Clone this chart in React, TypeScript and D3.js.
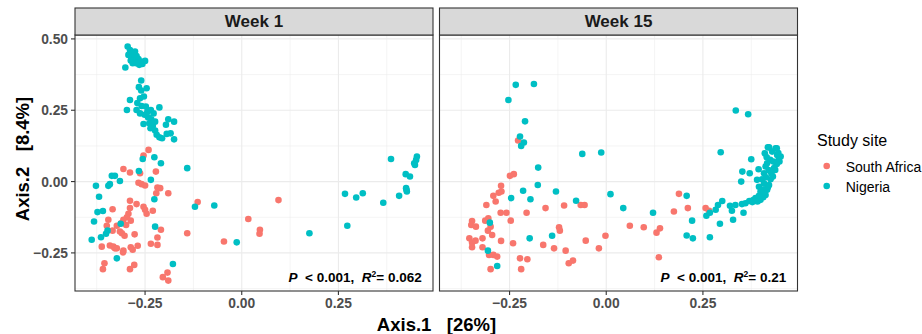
import React from "react";
import { scaleLinear, range } from "d3";

// PCoA coordinates [Axis.1, Axis.2]
const week1SouthAfrica: [number, number][] = [
  [-0.241, 0.111], [-0.254, 0.091], [-0.306, 0.044], [-0.289, 0.032], [-0.263, 0.029], [-0.222, 0.035],
  [-0.267, -0.004], [-0.259, -0.009], [-0.25, -0.014], [-0.218, -0.021], [-0.211, -0.023], [-0.221, -0.041],
  [-0.19, -0.041], [-0.289, -0.067], [-0.114, -0.072], [0.095, -0.065], [-0.272, -0.079], [-0.254, -0.088],
  [-0.289, -0.093], [-0.334, -0.097], [-0.25, -0.099], [-0.23, -0.102], [-0.293, -0.113], [-0.246, -0.113],
  [-0.297, -0.125], [-0.287, -0.137], [-0.345, -0.134], [-0.306, -0.134], [-0.312, -0.146], [-0.349, -0.155],
  [-0.323, -0.155], [-0.299, -0.152], [-0.209, -0.169], [-0.334, -0.172], [-0.315, -0.175], [-0.31, -0.181],
  [-0.303, -0.19], [-0.277, -0.185], [-0.218, -0.196], [-0.141, -0.181], [0.017, -0.131], [0.047, -0.169],
  [0.046, -0.183], [-0.046, -0.21], [-0.362, -0.228], [-0.341, -0.224], [-0.332, -0.228], [-0.328, -0.234],
  [-0.323, -0.234], [-0.306, -0.242], [-0.287, -0.23], [-0.282, -0.239], [-0.269, -0.225], [-0.307, -0.248],
  [-0.235, -0.218], [-0.218, -0.222], [-0.355, -0.286], [-0.359, -0.307], [-0.289, -0.307], [-0.278, -0.292],
  [-0.204, -0.335], [-0.192, -0.319], [-0.19, -0.347],
];

const week1Nigeria: [number, number][] = [
  [-0.295, 0.473], [-0.289, 0.461], [-0.284, 0.45], [-0.276, 0.456], [-0.293, 0.444], [-0.286, 0.436],
  [-0.278, 0.429], [-0.272, 0.44], [-0.267, 0.429], [-0.261, 0.421], [-0.25, 0.423], [-0.265, 0.409],
  [-0.273, 0.415], [-0.282, 0.415], [-0.301, 0.4], [-0.257, 0.412], [-0.287, 0.424],
  [-0.26, 0.354], [-0.266, 0.331], [-0.246, 0.327], [-0.26, 0.319], [-0.289, 0.286], [-0.263, 0.292],
  [-0.253, 0.298], [-0.297, 0.251], [-0.27, 0.275], [-0.259, 0.265], [-0.248, 0.263], [-0.213, 0.26],
  [-0.272, 0.251], [-0.263, 0.239], [-0.244, 0.245], [-0.235, 0.251], [-0.228, 0.239], [-0.251, 0.234],
  [-0.242, 0.225], [-0.234, 0.218], [-0.254, 0.202], [-0.239, 0.204], [-0.23, 0.195], [-0.224, 0.21],
  [-0.236, 0.187], [-0.224, 0.179], [-0.22, 0.164], [-0.213, 0.155], [-0.206, 0.152], [-0.196, 0.199],
  [-0.19, 0.218], [-0.175, 0.21], [-0.194, 0.167], [-0.184, 0.169], [-0.175, 0.148],
  [-0.256, 0.079], [-0.226, 0.085], [-0.209, 0.064], [-0.266, 0.037], [-0.336, 0.02], [-0.328, 0.02],
  [-0.315, 0.002], [-0.341, -0.009], [-0.345, -0.015], [-0.377, -0.015], [-0.235, 0.006], [-0.141, 0.047],
  [-0.369, -0.053], [-0.226, -0.062], [-0.373, -0.107], [-0.359, -0.103], [-0.121, -0.088], [-0.071, -0.084],
  [-0.382, -0.14], [-0.313, -0.148], [-0.224, -0.158], [-0.347, -0.172], [-0.351, -0.183], [-0.364, -0.195],
  [-0.388, -0.204], [-0.013, -0.213], [-0.323, -0.269], [-0.178, -0.289],
  [0.175, -0.181], [0.267, -0.043], [0.296, -0.056], [0.313, -0.041], [0.273, -0.155], [0.366, -0.074],
  [0.386, 0.079], [0.407, -0.05], [0.424, 0.026], [0.435, 0.018], [0.425, -0.023], [0.427, -0.035],
  [0.426, -0.029], [0.448, 0.058], [0.453, 0.088], [0.451, 0.076], [0.446, 0.064],
];

const week15SouthAfrica: [number, number][] = [
  [-0.228, 0.144], [-0.249, 0.02], [-0.239, 0.026], [-0.272, -0.015], [-0.278, -0.039], [-0.271, -0.035],
  [-0.292, -0.05], [-0.286, -0.07], [-0.31, -0.082], [-0.273, -0.109], [-0.258, -0.109], [-0.206, -0.109],
  [-0.157, -0.093], [-0.109, -0.084], [-0.066, -0.082], [-0.056, -0.082], [-0.247, -0.137], [-0.347, -0.138],
  [-0.349, -0.152], [-0.337, -0.158], [-0.313, -0.137], [-0.305, -0.129], [-0.299, -0.158], [-0.306, -0.172],
  [-0.295, -0.187], [-0.354, -0.199], [-0.347, -0.214], [-0.338, -0.207], [-0.32, -0.199], [-0.347, -0.23],
  [-0.32, -0.23], [-0.272, -0.208], [-0.241, -0.216], [-0.163, -0.222], [-0.135, -0.234], [-0.105, -0.242],
  [-0.053, -0.207], [-0.019, -0.234], [-0.002, -0.19], [-0.122, -0.16], [-0.12, -0.172], [-0.303, -0.257],
  [-0.292, -0.257], [-0.282, -0.263], [-0.223, -0.269], [-0.204, -0.272], [-0.22, -0.307], [-0.299, -0.307],
  [-0.097, -0.286], [-0.086, -0.277], [0.061, -0.155], [0.097, -0.16], [0.13, -0.179], [0.139, -0.164],
  [0.136, -0.265], [0.188, -0.043], [0.175, -0.105], [0.211, -0.093], [0.257, -0.093], [0.266, -0.102],
];

const week15Nigeria: [number, number][] = [
  [-0.234, 0.339], [-0.187, 0.342], [-0.253, 0.286], [-0.21, 0.211], [-0.223, 0.158], [-0.213, 0.137],
  [-0.22, 0.125], [0.335, 0.249], [0.367, 0.236], [-0.062, 0.097], [-0.013, 0.102], [0.296, 0.103],
  [-0.176, 0.049], [-0.177, -0.012], [-0.215, -0.032], [-0.13, -0.035], [-0.246, -0.058], [-0.196, -0.062],
  [-0.078, -0.067], [0.011, -0.044], [0.044, -0.093], [0.121, -0.109], [0.208, -0.05], [0.222, -0.137],
  [0.208, -0.189], [0.224, -0.199], [0.268, -0.195], [0.259, -0.12], [0.268, -0.109], [0.283, -0.099],
  [0.289, -0.082], [0.3, -0.068], [0.294, -0.148], [0.328, -0.134], [0.325, -0.102], [0.32, -0.085],
  [0.334, -0.082], [0.351, -0.079], [0.355, -0.109], [0.36, -0.076], [0.378, -0.072], [-0.301, -0.144],
  [-0.306, -0.242], [-0.282, -0.296], [-0.198, -0.199], [-0.14, -0.19], [0.349, 0.0], [0.352, 0.035],
  [0.371, 0.029], [0.375, 0.078], [0.394, 0.043], [0.39, 0.006], [0.395, -0.018], [0.403, 0.008],
  [0.408, 0.029], [0.412, 0.053], [0.41, 0.099], [0.418, 0.12], [0.429, 0.105], [0.438, 0.117],
  [0.442, 0.093], [0.451, 0.088], [0.446, 0.076], [0.441, 0.062], [0.434, 0.047], [0.427, 0.029],
  [0.425, 0.008], [0.421, -0.012], [0.416, -0.029], [0.412, -0.047], [0.406, -0.055], [0.399, -0.064],
  [0.391, -0.07], [0.408, -0.006], [0.431, 0.018], [0.437, 0.041], [0.448, 0.07], [0.424, 0.076],
  [0.416, 0.064], [0.408, -0.027], [0.399, -0.035], [0.386, -0.058], [0.421, 0.12], [0.441, 0.117],
  [0.415, 0.085], [0.42, 0.04], [0.432, 0.07], [0.445, 0.1], [0.403, -0.04], [0.395, -0.05],
  [0.38, -0.065], [0.37, -0.068], [0.413, 0.015], [0.418, -0.02],
];

const facets = ["Week 1", "Week 15"];
const rSquared = ["0.062", "0.21"];
const sites = ["South Africa", "Nigeria"];
const siteColors = ["#F8766D", "#00BFC4"];
const xTicks = [-0.25, 0, 0.25];
const yTicks = [-0.25, 0, 0.25, 0.5];

const panelData = [
  [week1SouthAfrica, week1Nigeria],
  [week15SouthAfrica, week15Nigeria],
];

const font = "'Liberation Sans', Arial, Helvetica, sans-serif";
const panelLefts = [75, 439.5];
const panelW = 358;
const top = 35;
const bottom = 291;
const stripTop = 8;

const yScale = scaleLinear().domain([-0.3835, 0.5137]).range([bottom, top]);

const fmt = (v: number) => (v === 0 ? "0.00" : v < 0 ? "\u2212" + Math.abs(v).toFixed(2) : v.toFixed(2));

export default function App() {
  const minorY = range(-0.375, 0.6, 0.125).filter((v) => !yTicks.includes(v));
  return (
    <svg width={922} height={334} style={{ position: "absolute", left: 0, top: 0, fontFamily: font }}>
      <rect width={922} height={334} fill="#fff" />
      {facets.map((facet, i) => {
        const left = panelLefts[i];
        const x = scaleLinear().domain([-0.4312, 0.4946]).range([left, left + panelW]);
        const [xmin, xmax] = x.domain();
        const minorX = range(-0.375, 0.5, 0.25).filter((v) => v > xmin && v < xmax);
        const minorYIn = minorY.filter((v) => yScale(v) > top && yScale(v) < bottom);
        return (
          <g key={facet}>
            {/* grid */}
            {minorX.map((v) => (
              <line key={"mx" + v} x1={x(v)} x2={x(v)} y1={top} y2={bottom} stroke="#EBEBEB" strokeWidth={0.55} />
            ))}
            {minorYIn.map((v) => (
              <line key={"my" + v} x1={left} x2={left + panelW} y1={yScale(v)} y2={yScale(v)} stroke="#EBEBEB" strokeWidth={0.55} />
            ))}
            {xTicks.map((v) => (
              <line key={"gx" + v} x1={x(v)} x2={x(v)} y1={top} y2={bottom} stroke="#EBEBEB" strokeWidth={1.1} />
            ))}
            {yTicks.map((v) => (
              <line key={"gy" + v} x1={left} x2={left + panelW} y1={yScale(v)} y2={yScale(v)} stroke="#EBEBEB" strokeWidth={1.1} />
            ))}
            {/* points */}
            {panelData[i].map((pts, s) =>
              pts.map(([px, py], k) => (
                <circle key={s + "-" + k} cx={x(px)} cy={yScale(py)} r={3.3} fill={siteColors[s]} />
              ))
            )}
            {/* annotation */}
            <text
              x={left + panelW - 11.3}
              y={282}
              textAnchor="end"
              fontSize={13.5}
              fontWeight="bold"
              fill="#000"
              style={{ whiteSpace: "pre" }}
            >
              <tspan fontStyle="italic">P</tspan>
              <tspan>{"  < 0.001,  "}</tspan>
              <tspan fontStyle="italic">R</tspan>
              <tspan fontSize={8.5} dy={-5.5}>2</tspan>
              <tspan dy={5.5}>{"= " + rSquared[i]}</tspan>
            </text>
            {/* border */}
            <rect x={left} y={top} width={panelW} height={bottom - top} fill="none" stroke="#333333" strokeWidth={1.1} />
            {/* strip */}
            <rect x={left} y={stripTop} width={panelW} height={top - stripTop} fill="#D9D9D9" stroke="#333333" strokeWidth={1.1} />
            <text x={left + panelW / 2} y={26.5} textAnchor="middle" fontSize={17} fontWeight="bold" fill="#1A1A1A">
              {facet}
            </text>
            {/* x axis */}
            {xTicks.map((v) => (
              <g key={"xt" + v}>
                <line x1={x(v)} x2={x(v)} y1={bottom} y2={bottom + 4} stroke="#333333" strokeWidth={1.1} />
                <text x={x(v)} y={308} textAnchor="middle" fontSize={13.8} fontWeight="bold" fill="#4D4D4D">
                  {fmt(v)}
                </text>
              </g>
            ))}
          </g>
        );
      })}
      {/* y axis */}
      {yTicks.map((v) => (
        <g key={"yt" + v}>
          <line x1={71} x2={75} y1={yScale(v)} y2={yScale(v)} stroke="#333333" strokeWidth={1.1} />
          <text x={68} y={yScale(v) + 5} textAnchor="end" fontSize={13.8} fontWeight="bold" fill="#4D4D4D">
            {fmt(v)}
          </text>
        </g>
      ))}
      {/* axis titles */}
      <text x={436.5} y={331} textAnchor="middle" fontSize={18.5} fontWeight="bold" fill="#000" style={{ whiteSpace: "pre" }}>
        {"Axis.1   [26%]"}
      </text>
      <text
        transform="translate(29,159) rotate(-90)"
        textAnchor="middle"
        fontSize={18.5}
        fontWeight="bold"
        fill="#000"
        style={{ whiteSpace: "pre" }}
      >
        {"Axis.2   [8.4%]"}
      </text>
      {/* legend */}
      <text x={817} y={146} fontSize={16} fill="#000">Study site</text>
      {sites.map((s, i) => (
        <g key={s}>
          <circle cx={826.7} cy={166 + i * 20} r={3.3} fill={siteColors[i]} />
          <text x={845.7} y={171.5 + i * 20} fontSize={14} fill="#000">{s}</text>
        </g>
      ))}
    </svg>
  );
}
